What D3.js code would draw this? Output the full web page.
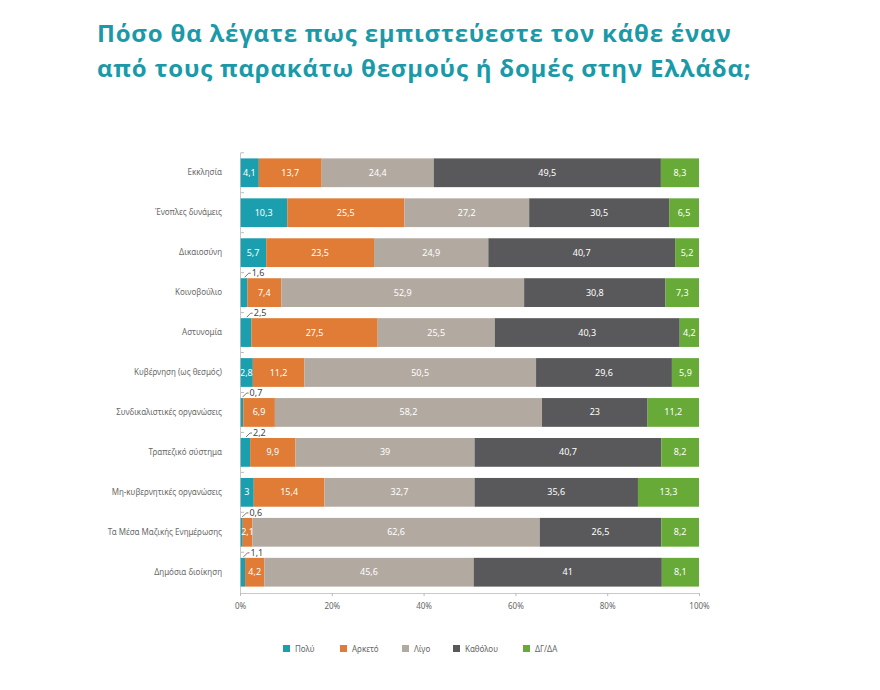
<!DOCTYPE html>
<html>
<head>
<meta charset="utf-8">
<script src="https://cdn.jsdelivr.net/npm/d3@7"></script>
<style>
  body { margin: 0; background: #fff; }
  svg { display: block; }
</style>
</head>
<body>
<div id="chart"></div>
<script>
// data
var categories = ["Εκκλησία", "Ένοπλες δυνάμεις", "Δικαιοσύνη", "Κοινοβούλιο", "Αστυνομία",
    "Κυβέρνηση (ως θεσμός)", "Συνδικαλιστικές οργανώσεις", "Τραπεζικό σύστημα",
    "Μη-κυβερνητικές οργανώσεις", "Τα Μέσα Μαζικής Ενημέρωσης", "Δημόσια διοίκηση"];
var seriesNames = ["Πολύ", "Αρκετό", "Λίγο", "Καθόλου", "ΔΓ/ΔΑ"];
var poly     = [4.1, 10.3, 5.7, 1.6, 2.5, 2.8, 0.7, 2.2, 3, 0.6, 1.1];
var arketo   = [13.7, 25.5, 23.5, 7.4, 27.5, 11.2, 6.9, 9.9, 15.4, 2.1, 4.2];
var ligo     = [24.4, 27.2, 24.9, 52.9, 25.5, 50.5, 58.2, 39, 32.7, 62.6, 45.6];
var katholou = [49.5, 30.5, 40.7, 30.8, 40.3, 29.6, 23, 40.7, 35.6, 26.5, 41];
var dgda     = [8.3, 6.5, 5.2, 7.3, 4.2, 5.9, 11.2, 8.2, 13.3, 8.2, 8.1];
var tickValues = [0, 20, 40, 60, 80, 100];
var colors = ["#1b9fae", "#e07c35", "#b2aaa1", "#59595b", "#67aa38"];

function init() {
    var w = 880, h = 690;
    var left = 240, right = 699, top = 152, bottom = 593;

    var svg = d3.select("#chart").append("svg")
        .attr("width", w).attr("height", h);

    // title
    var title = svg.append("text")
        .attr("fill", "#1a9aa9")
        .style("font-family", "'Open Sans', sans-serif")
        .style("font-weight", "bold")
        .style("font-size", "24px")
        .style("letter-spacing", "0.8px");
    title.append("tspan").attr("x", 97).attr("y", 42)
        .text("Πόσο θα λέγατε πως εμπιστεύεστε τον κάθε έναν");
    title.append("tspan").attr("x", 97).attr("y", 77)
        .text("από τους παρακάτω θεσμούς ή δομές στην Ελλάδα;");

    var rows = categories.map(function (c, i) {
        return { cat: c, Πολύ: poly[i], Αρκετό: arketo[i], Λίγο: ligo[i], Καθόλου: katholou[i], "ΔΓ/ΔΑ": dgda[i] };
    });
    var stacked = d3.stack().keys(seriesNames)(rows);

    var xScale = d3.scaleLinear().domain([0, 100]).range([left, right]);
    var yScale = d3.scaleBand().domain(categories).range([top, bottom])
        .paddingInner(0.28).paddingOuter(0.16);
    var color = d3.scaleOrdinal().domain(seriesNames).range(colors);

    // bars
    var layers = svg.selectAll("g.layer")
        .data(stacked)
        .enter().append("g")
        .attr("class", "layer")
        .attr("fill", function (d) { return color(d.key); });

    layers.selectAll("rect")
        .data(function (d) { return d; })
        .enter().append("rect")
        .attr("x", function (d) { return xScale(d[0]); })
        .attr("y", function (d) { return yScale(d.data.cat); })
        .attr("width", function (d) { return xScale(d[1]) - xScale(d[0]); })
        .attr("height", yScale.bandwidth());

    // value labels
    stacked.forEach(function (layer) {
        layer.forEach(function (d) {
            var v = d.data[layer.key];
            var label = String(v).replace(".", ",");
            var y0 = yScale(d.data.cat);
            if (layer.key === "Πολύ" && v < 2.6) {
                var xm = xScale((d[0] + d[1]) / 2);
                svg.append("path")
                    .attr("d", "M" + (xm + 1) + "," + (y0 - 1) + "L" + (xm + 5) + "," + (y0 - 5) + "L" + (xm + 7) + "," + (y0 - 5))
                    .attr("fill", "none").attr("stroke", "#555").attr("stroke-width", 0.8);
                svg.append("text")
                    .attr("x", xm + 8).attr("y", y0 - 2)
                    .attr("fill", "#444")
                    .style("font-family", "'Noto Sans', sans-serif")
                    .style("font-size", "9px")
                    .text(label);
            } else {
                svg.append("text")
                    .attr("x", xScale((d[0] + d[1]) / 2))
                    .attr("y", y0 + yScale.bandwidth() / 2 + 3)
                    .attr("text-anchor", "middle")
                    .attr("fill", "#fff")
                    .style("font-family", "'Noto Sans', sans-serif")
                    .style("font-size", "9px")
                    .text(label);
            }
        });
    });

    // y axis
    var yAxis = d3.axisLeft(yScale).tickSize(0).tickPadding(18);
    var gy = svg.append("g")
        .attr("transform", "translate(" + left + ",0)")
        .call(yAxis);
    gy.select(".domain").attr("stroke", "#bbb").attr("stroke-width", 0.8);
    gy.selectAll("text")
        .attr("fill", "#6a6a6a")
        .style("font-family", "'Noto Sans', sans-serif")
        .style("font-size", "8px");

    // small marks between the bands
    var gap = yScale.step() - yScale.bandwidth();
    svg.selectAll("line.sep")
        .data(categories)
        .enter().append("line")
        .attr("class", "sep")
        .attr("x1", left + 1).attr("x2", left + 4)
        .attr("y1", function (d) { return yScale(d) - gap / 2; })
        .attr("y2", function (d) { return yScale(d) - gap / 2; })
        .attr("stroke", "#aaa").attr("stroke-width", 0.8);

    // x axis
    var xAxis = d3.axisBottom(xScale)
        .tickValues(tickValues)
        .tickSize(3)
        .tickFormat(function (d) { return d + "%"; });
    var gx = svg.append("g")
        .attr("transform", "translate(0," + bottom + ")")
        .call(xAxis);
    gx.select(".domain").attr("stroke", "#bbb").attr("stroke-width", 0.8);
    gx.selectAll(".tick line").attr("stroke", "#bbb");
    gx.selectAll("text")
        .attr("fill", "#666")
        .attr("dy", "1.3em")
        .style("font-family", "'Noto Sans', sans-serif")
        .style("font-size", "8px");

    // legend
    var legendX = [283, 340, 402, 453, 523];
    var legend = svg.selectAll("g.legend")
        .data(seriesNames)
        .enter().append("g")
        .attr("class", "legend")
        .attr("transform", function (d, i) { return "translate(" + legendX[i] + ",645)"; });
    legend.append("rect")
        .attr("width", 7).attr("height", 7)
        .attr("fill", function (d) { return color(d); });
    legend.append("text")
        .attr("x", 12).attr("y", 7)
        .attr("fill", "#666")
        .style("font-family", "'Noto Sans', sans-serif")
        .style("font-size", "8px")
        .text(function (d) { return d; });
}

window.onload = init;
</script>
</body>
</html>
